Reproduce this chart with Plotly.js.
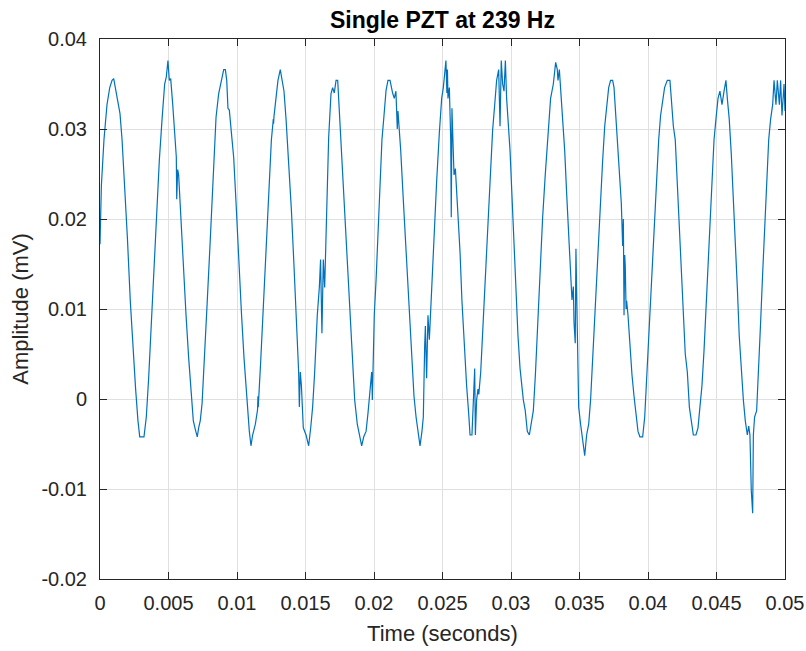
<!DOCTYPE html>
<html>
<head>
<meta charset="utf-8">
<script src="https://cdn.plot.ly/plotly-3.0.1.min.js"></script>
<style>html,body{margin:0;padding:0;background:#fff;}#chart{width:806px;height:651px;}</style>
</head>
<body>
<div id="chart"></div>
<script>
const timeSec = [
0.00000,0.00003,0.00010,0.00029,0.00051,0.00071,0.00088,0.00100,0.00112,0.00131,0.00146,0.00161,0.00180,0.00200,0.00221,0.00241,0.00260,0.00277,0.00290,0.00321,
0.00338,0.00355,0.00375,0.00394,0.00414,0.00433,0.00453,0.00472,0.00484,0.00496,0.00506,0.00516,0.00531,0.00545,0.00557,0.00560,0.00567,0.00574,0.00589,0.00608,
0.00628,0.00647,0.00667,0.00681,0.00696,0.00710,0.00720,0.00732,0.00745,0.00764,0.00783,0.00803,0.00822,0.00830,0.00847,0.00866,0.00886,0.00903,0.00915,0.00925,
0.00934,0.00944,0.00959,0.00976,0.00993,0.01012,0.01032,0.01051,0.01071,0.01090,0.01102,0.01114,0.01134,0.01150,0.01153,0.01155,0.01173,0.01192,0.01212,0.01231,
0.01251,0.01265,0.01267,0.01270,0.01285,0.01299,0.01316,0.01328,0.01343,0.01358,0.01377,0.01397,0.01416,0.01436,0.01445,0.01450,0.01455,0.01462,0.01470,0.01484,
0.01504,0.01523,0.01538,0.01552,0.01567,0.01586,0.01601,0.01610,0.01620,0.01630,0.01640,0.01655,0.01669,0.01686,0.01698,0.01710,0.01723,0.01735,0.01742,0.01752,
0.01766,0.01783,0.01800,0.01820,0.01839,0.01859,0.01878,0.01893,0.01910,0.01925,0.01942,0.01956,0.01976,0.01983,0.01988,0.02002,0.02015,0.02029,0.02044,0.02058,
0.02073,0.02088,0.02102,0.02117,0.02136,0.02148,0.02160,0.02170,0.02175,0.02180,0.02195,0.02214,0.02234,0.02253,0.02272,0.02292,0.02307,0.02321,0.02336,0.02350,
0.02360,0.02370,0.02375,0.02384,0.02394,0.02404,0.02418,0.02438,0.02457,0.02477,0.02494,0.02506,0.02518,0.02525,0.02532,0.02536,0.02540,0.02550,0.02560,0.02564,
0.02569,0.02576,0.02584,0.02594,0.02603,0.02613,0.02628,0.02642,0.02657,0.02676,0.02691,0.02701,0.02715,0.02725,0.02735,0.02740,0.02749,0.02759,0.02765,0.02779,
0.02793,0.02808,0.02822,0.02837,0.02852,0.02866,0.02881,0.02895,0.02910,0.02920,0.02929,0.02939,0.02949,0.02959,0.02968,0.02980,0.02993,0.03007,0.03022,0.03036,
0.03051,0.03066,0.03090,0.03104,0.03119,0.03134,0.03148,0.03163,0.03178,0.03192,0.03212,0.03231,0.03250,0.03270,0.03289,0.03309,0.03326,0.03338,0.03343,0.03353,
0.03362,0.03377,0.03392,0.03406,0.03421,0.03436,0.03445,0.03455,0.03460,0.03469,0.03474,0.03484,0.03494,0.03508,0.03523,0.03538,0.03552,0.03567,0.03581,0.03596,
0.03610,0.03625,0.03640,0.03654,0.03669,0.03684,0.03698,0.03713,0.03727,0.03742,0.03752,0.03761,0.03776,0.03790,0.03805,0.03815,0.03820,0.03825,0.03830,0.03834,
0.03840,0.03844,0.03854,0.03868,0.03883,0.03898,0.03912,0.03927,0.03941,0.03961,0.03976,0.03990,0.04005,0.04019,0.04034,0.04049,0.04063,0.04078,0.04092,0.04107,
0.04121,0.04141,0.04160,0.04170,0.04185,0.04199,0.04203,0.04214,0.04229,0.04243,0.04258,0.04272,0.04287,0.04302,0.04316,0.04331,0.04350,0.04365,0.04379,0.04394,
0.04409,0.04423,0.04438,0.04452,0.04467,0.04482,0.04496,0.04511,0.04525,0.04540,0.04555,0.04569,0.04579,0.04593,0.04608,0.04623,0.04637,0.04652,0.04666,0.04681,
0.04696,0.04710,0.04725,0.04735,0.04744,0.04754,0.04764,0.04769,0.04778,0.04793,0.04808,0.04822,0.04837,0.04851,0.04866,0.04881,0.04895,0.04910,0.04920,0.04934,
0.04944,0.04959,0.04968,0.04978,0.04993,0.05000
];
const amplitudeMV = [
0.0172,0.0195,0.0237,0.0288,0.0327,0.0346,0.0354,0.0356,0.0346,0.0327,0.0317,0.0288,0.0237,0.0179,0.0109,0.0054,0.0011,-0.0024,-0.0042,-0.0042,
-0.0020,0.0023,0.0085,0.0148,0.0210,0.0265,0.0311,0.0350,0.0358,0.0376,0.0354,0.0356,0.0327,0.0288,0.0269,0.0222,0.0255,0.0249,0.0202,0.0148,
0.0093,0.0046,0.0007,-0.0024,-0.0034,-0.0042,-0.0032,-0.0024,-0.0005,0.0046,0.0109,0.0171,0.0234,0.0270,0.0313,0.0339,0.0354,0.0366,0.0366,0.0354,
0.0323,0.0321,0.0296,0.0268,0.0218,0.0155,0.0097,0.0046,-0.0001,-0.0036,-0.0052,-0.0040,-0.0028,-0.0012,0.0003,-0.0009,0.0042,0.0105,0.0171,0.0237,
0.0288,0.0311,0.0306,0.0314,0.0339,0.0354,0.0366,0.0354,0.0342,0.0311,0.0265,0.0210,0.0148,0.0085,0.0054,0.0030,-0.0009,0.0030,0.0015,-0.0032,
-0.0040,-0.0052,-0.0032,-0.0009,0.0030,0.0093,0.0124,0.0155,0.0073,0.0155,0.0124,0.0218,0.0290,0.0339,0.0346,0.0340,0.0354,0.0354,0.0334,0.0303,
0.0261,0.0210,0.0159,0.0101,0.0046,-0.0001,-0.0028,-0.0040,-0.0052,-0.0042,-0.0036,-0.0016,0.0015,0.0030,-0.0001,0.0093,0.0132,0.0187,0.0241,0.0288,
0.0315,0.0343,0.0354,0.0354,0.0340,0.0334,0.0342,0.0300,0.0320,0.0311,0.0276,0.0221,0.0163,0.0105,0.0054,0.0003,-0.0020,-0.0036,-0.0052,-0.0036,
-0.0020,0.0060,0.0081,0.0023,0.0093,0.0066,0.0116,0.0187,0.0241,0.0296,0.0334,0.0346,0.0366,0.0376,0.0340,0.0366,0.0334,0.0346,0.0288,0.0202,
0.0323,0.0280,0.0249,0.0256,0.0233,0.0198,0.0163,0.0109,0.0062,0.0015,-0.0016,-0.0040,-0.0040,-0.0010,0.0034,-0.0040,-0.0001,0.0011,0.0005,0.0030,
0.0070,0.0116,0.0163,0.0210,0.0256,0.0299,0.0327,0.0354,0.0366,0.0303,0.0376,0.0350,0.0342,0.0376,0.0334,0.0311,0.0276,0.0226,0.0171,0.0116,
0.0070,0.0034,-0.0001,-0.0013,-0.0036,-0.0040,-0.0028,-0.0013,0.0027,0.0077,0.0140,0.0202,0.0249,0.0299,0.0334,0.0350,0.0374,0.0366,0.0354,0.0366,
0.0346,0.0307,0.0276,0.0229,0.0187,0.0132,0.0110,0.0125,0.0085,0.0062,0.0167,0.0077,-0.0009,-0.0028,-0.0044,-0.0063,-0.0040,-0.0028,-0.0001,0.0046,
0.0085,0.0132,0.0171,0.0226,0.0265,0.0303,0.0327,0.0346,0.0354,0.0354,0.0346,0.0323,0.0296,0.0256,0.0218,0.0170,0.0200,0.0093,0.0160,0.0148,
0.0100,0.0109,0.0093,0.0054,0.0027,0.0003,-0.0020,-0.0036,-0.0042,-0.0042,-0.0020,0.0023,0.0070,0.0109,0.0155,0.0202,0.0249,0.0288,0.0315,0.0334,
0.0346,0.0354,0.0354,0.0334,0.0303,0.0288,0.0275,0.0249,0.0202,0.0155,0.0093,0.0050,0.0030,-0.0009,-0.0024,-0.0040,-0.0040,-0.0032,-0.0009,0.0015,
0.0054,0.0100,0.0148,0.0194,0.0241,0.0288,0.0311,0.0334,0.0342,0.0327,0.0342,0.0354,0.0334,0.0311,0.0272,0.0226,0.0171,0.0124,0.0070,0.0030,
-0.0001,-0.0024,-0.0040,-0.0030,-0.0040,-0.0102,-0.0127,-0.0040,-0.0020,-0.0013,0.0030,0.0085,0.0140,0.0187,0.0241,0.0288,0.0311,0.0327,0.0354,0.0327,
0.0354,0.0327,0.0354,0.0315,0.0350,0.0320
];
const xTickVals = [0,0.005,0.01,0.015,0.02,0.025,0.03,0.035,0.04,0.045,0.05];
const xTickText = ['0','0.005','0.01','0.015','0.02','0.025','0.03','0.035','0.04','0.045','0.05'];
const yTickVals = [-0.02,-0.01,0,0.01,0.02,0.03,0.04];
const yTickText = ['-0.02','-0.01','0','0.01','0.02','0.03','0.04'];

const FONT = 'Liberation Sans, Arial, Helvetica, sans-serif';
const axisCommon = {
  showline: true, linecolor: '#262626', linewidth: 1, mirror: 'ticks',
  ticks: 'inside', ticklen: 7, tickwidth: 1, tickcolor: '#262626',
  showgrid: true, gridcolor: '#e0e0e0', gridwidth: 1, zeroline: false,
  tickfont: {family: FONT, size: 20, color: '#262626'}, tickmode: 'array'
};

const trace = {
  x: timeSec, y: amplitudeMV, type: 'scatter', mode: 'lines',
  line: {color: '#0072BD', width: 1.2}, hoverinfo: 'skip'
};

const layout = {
  width: 806, height: 651,
  margin: {l: 100, r: 21, t: 39, b: 72, pad: 0},
  paper_bgcolor: '#ffffff', plot_bgcolor: '#ffffff',
  showlegend: false,
  font: {family: FONT, color: '#262626'},
  title: {text: '<b>Single PZT at 239 Hz</b>', font: {family: FONT, size: 23, color: '#000000'},
          x: 0.5, xref: 'paper', xanchor: 'center', y: 1 - 20/651, yref: 'container', yanchor: 'middle'},
  xaxis: Object.assign({}, axisCommon, {
    range: [0, 0.05], tickvals: xTickVals, ticktext: xTickText, ticklabelstandoff: 6,
    title: {text: 'Time (seconds)', font: {family: FONT, size: 22, color: '#262626'}, standoff: 12}
  }),
  yaxis: Object.assign({}, axisCommon, {
    range: [-0.02, 0.04], tickvals: yTickVals, ticktext: yTickText, ticklabelstandoff: 8,
    title: {text: 'Amplitude (mV)', font: {family: FONT, size: 22, color: '#262626'}, standoff: 6}
  })
};

Plotly.newPlot('chart', [trace], layout, {staticPlot: true, displayModeBar: false});
</script>
</body>
</html>
